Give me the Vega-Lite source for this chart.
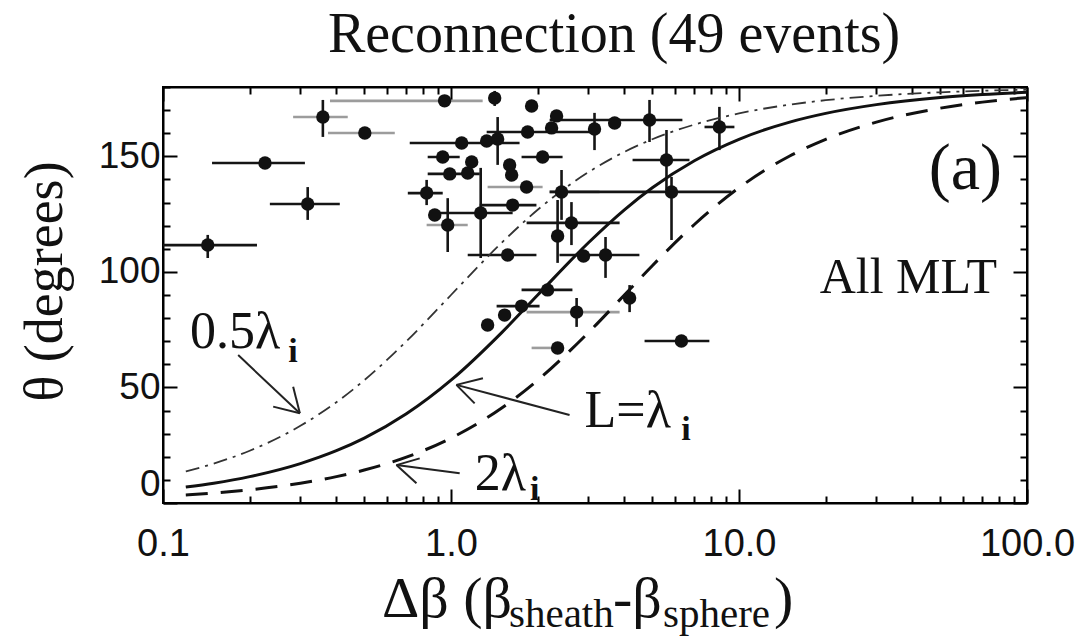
{
  "$schema": "https://vega.github.io/schema/vega-lite/v6.json",
  "width": 864,
  "height": 416,
  "autosize": {"type": "none"},
  "padding": {"left": 163, "top": 87, "right": 56, "bottom": 133},
  "background": "white",
  "config": {"view": {"stroke": "black", "strokeWidth": 2}, "axis": {"titleFont": "Liberation Serif", "titleFontWeight": "normal"}},
  "title": {"text": "Reconnection (49 events)", "font": "Liberation Serif", "fontSize": 56, "fontWeight": "normal", "color": "#111111", "anchor": "middle", "frame": "group", "dx": 19, "dy": 52, "offset": 30, "baseline": "alphabetic"},
  "datasets": {
    "events": [
      {"db": 0.143, "theta": 111.6, "db_lo": 0.100, "db_hi": 0.212, "th_lo": 106.0, "th_hi": 116.0, "shade": "dark"},
      {"db": 0.226, "theta": 147.1, "db_lo": 0.148, "db_hi": 0.311, "th_lo": null, "th_hi": null, "shade": "dark"},
      {"db": 0.318, "theta": 129.4, "db_lo": 0.235, "db_hi": 0.411, "th_lo": 122.5, "th_hi": 136.7, "shade": "dark"},
      {"db": 0.359, "theta": 167.0, "db_lo": 0.283, "db_hi": 0.438, "th_lo": 158.4, "th_hi": 174.4, "shade": "light"},
      {"db": 0.502, "theta": 160.1, "db_lo": 0.374, "db_hi": 0.638, "th_lo": null, "th_hi": null, "shade": "light"},
      {"db": 0.950, "theta": 174.0, "db_lo": 0.380, "db_hi": 1.288, "th_lo": null, "th_hi": null, "shade": "light"},
      {"db": 1.418, "theta": 175.2, "db_lo": null, "db_hi": null, "th_lo": 171.8, "th_hi": 178.3, "shade": "dark"},
      {"db": 1.905, "theta": 171.8, "db_lo": null, "db_hi": null, "th_lo": null, "th_hi": null, "shade": "dark"},
      {"db": 2.326, "theta": 167.5, "db_lo": null, "db_hi": null, "th_lo": null, "th_hi": null, "shade": "dark"},
      {"db": 2.235, "theta": 162.3, "db_lo": null, "db_hi": null, "th_lo": null, "th_hi": null, "shade": "dark"},
      {"db": 1.845, "theta": 160.5, "db_lo": 1.33, "db_hi": 3.28, "th_lo": null, "th_hi": null, "shade": "dark"},
      {"db": 3.15, "theta": 161.8, "db_lo": null, "db_hi": null, "th_lo": 152.7, "th_hi": 168.8, "shade": "dark"},
      {"db": 3.70, "theta": 164.4, "db_lo": null, "db_hi": null, "th_lo": null, "th_hi": null, "shade": "dark"},
      {"db": 4.89, "theta": 165.7, "db_lo": 2.20, "db_hi": 6.36, "th_lo": 156.2, "th_hi": 174.4, "shade": "dark"},
      {"db": 8.55, "theta": 162.7, "db_lo": 7.59, "db_hi": 9.64, "th_lo": 152.7, "th_hi": 171.4, "shade": "dark"},
      {"db": 1.089, "theta": 155.8, "db_lo": 0.719, "db_hi": 1.73, "th_lo": null, "th_hi": null, "shade": "dark"},
      {"db": 1.33, "theta": 156.6, "db_lo": null, "db_hi": null, "th_lo": null, "th_hi": null, "shade": "dark"},
      {"db": 1.452, "theta": 157.5, "db_lo": null, "db_hi": null, "th_lo": 146.3, "th_hi": 167.0, "shade": "dark"},
      {"db": 0.936, "theta": 149.7, "db_lo": 0.830, "db_hi": 1.072, "th_lo": null, "th_hi": null, "shade": "dark"},
      {"db": 2.08, "theta": 149.7, "db_lo": 1.758, "db_hi": 2.44, "th_lo": null, "th_hi": null, "shade": "dark"},
      {"db": 0.990, "theta": 142.4, "db_lo": 0.830, "db_hi": 1.258, "th_lo": null, "th_hi": null, "shade": "dark"},
      {"db": 1.143, "theta": 142.8, "db_lo": null, "db_hi": null, "th_lo": null, "th_hi": null, "shade": "dark"},
      {"db": 1.18, "theta": 147.6, "db_lo": null, "db_hi": null, "th_lo": null, "th_hi": null, "shade": "dark"},
      {"db": 1.598, "theta": 146.3, "db_lo": null, "db_hi": null, "th_lo": null, "th_hi": null, "shade": "dark"},
      {"db": 1.624, "theta": 141.9, "db_lo": null, "db_hi": null, "th_lo": null, "th_hi": null, "shade": "dark"},
      {"db": 1.268, "theta": 125.5, "db_lo": 0.843, "db_hi": 1.637, "th_lo": 106.0, "th_hi": 145.0, "shade": "dark"},
      {"db": 1.83, "theta": 136.7, "db_lo": 1.34, "db_hi": 2.08, "th_lo": null, "th_hi": null, "shade": "light"},
      {"db": 2.42, "theta": 134.6, "db_lo": 2.20, "db_hi": 3.28, "th_lo": 122.5, "th_hi": 144.1, "shade": "light"},
      {"db": 0.823, "theta": 134.1, "db_lo": 0.708, "db_hi": 0.936, "th_lo": 128.9, "th_hi": 139.8, "shade": "dark"},
      {"db": 1.637, "theta": 128.9, "db_lo": 1.258, "db_hi": 1.98, "th_lo": null, "th_hi": null, "shade": "dark"},
      {"db": 0.878, "theta": 124.6, "db_lo": null, "db_hi": null, "th_lo": null, "th_hi": null, "shade": "dark"},
      {"db": 0.974, "theta": 120.3, "db_lo": 0.823, "db_hi": 1.143, "th_lo": 108.6, "th_hi": 131.9, "shade": "light"},
      {"db": 2.62, "theta": 121.2, "db_lo": 1.83, "db_hi": 3.85, "th_lo": 111.6, "th_hi": 130.2, "shade": "dark"},
      {"db": 2.345, "theta": 115.5, "db_lo": null, "db_hi": null, "th_lo": 103.9, "th_hi": 131.1, "shade": "dark"},
      {"db": 1.573, "theta": 107.3, "db_lo": 1.143, "db_hi": 1.98, "th_lo": null, "th_hi": null, "shade": "dark"},
      {"db": 2.885, "theta": 106.9, "db_lo": null, "db_hi": null, "th_lo": null, "th_hi": null, "shade": "dark"},
      {"db": 3.44, "theta": 107.3, "db_lo": 2.38, "db_hi": 4.51, "th_lo": 97.4, "th_hi": 115.1, "shade": "dark"},
      {"db": 5.60, "theta": 148.4, "db_lo": 4.27, "db_hi": 6.73, "th_lo": 135.4, "th_hi": 161.4, "shade": "dark"},
      {"db": 5.83, "theta": 134.6, "db_lo": 2.20, "db_hi": 9.41, "th_lo": 113.8, "th_hi": 141.1, "shade": "dark"},
      {"db": 2.164, "theta": 92.2, "db_lo": 1.758, "db_hi": 2.64, "th_lo": null, "th_hi": null, "shade": "dark"},
      {"db": 1.758, "theta": 85.2, "db_lo": 1.44, "db_hi": 2.03, "th_lo": null, "th_hi": null, "shade": "dark"},
      {"db": 1.535, "theta": 81.3, "db_lo": null, "db_hi": null, "th_lo": null, "th_hi": null, "shade": "dark"},
      {"db": 1.34, "theta": 77.0, "db_lo": null, "db_hi": null, "th_lo": null, "th_hi": null, "shade": "dark"},
      {"db": 2.73, "theta": 82.6, "db_lo": 1.83, "db_hi": 3.85, "th_lo": 76.2, "th_hi": 88.7, "shade": "light"},
      {"db": 4.17, "theta": 88.7, "db_lo": null, "db_hi": null, "th_lo": 82.6, "th_hi": 94.3, "shade": "dark"},
      {"db": 2.345, "theta": 67.1, "db_lo": 1.905, "db_hi": 2.38, "th_lo": null, "th_hi": null, "shade": "light"},
      {"db": 6.31, "theta": 70.1, "db_lo": 4.70, "db_hi": 7.89, "th_lo": null, "th_hi": null, "shade": "dark"}
    ],
    "curves": [
      {"curve": "half", "db": 0.12, "theta": 13.69}, {"curve": "half", "db": 0.15, "theta": 17.06}, {"curve": "half", "db": 0.2, "theta": 22.62}, {"curve": "half", "db": 0.3, "theta": 33.40}, {"curve": "half", "db": 0.4, "theta": 43.60}, {"curve": "half", "db": 0.5, "theta": 53.13}, {"curve": "half", "db": 0.7, "theta": 69.98}, {"curve": "half", "db": 1, "theta": 90.0}, {"curve": "half", "db": 1.5, "theta": 112.62}, {"curve": "half", "db": 2, "theta": 126.87}, {"curve": "half", "db": 3, "theta": 143.13}, {"curve": "half", "db": 4, "theta": 151.93}, {"curve": "half", "db": 5, "theta": 157.38}, {"curve": "half", "db": 7, "theta": 163.74}, {"curve": "half", "db": 10, "theta": 168.58}, {"curve": "half", "db": 15, "theta": 172.37}, {"curve": "half", "db": 20, "theta": 174.28}, {"curve": "half", "db": 30, "theta": 176.18}, {"curve": "half", "db": 50, "theta": 177.71}, {"curve": "half", "db": 70, "theta": 178.36}, {"curve": "half", "db": 100, "theta": 178.85},
      {"curve": "one", "db": 0.12, "theta": 6.87}, {"curve": "one", "db": 0.15, "theta": 8.58}, {"curve": "one", "db": 0.2, "theta": 11.42}, {"curve": "one", "db": 0.3, "theta": 17.06}, {"curve": "one", "db": 0.4, "theta": 22.62}, {"curve": "one", "db": 0.5, "theta": 28.07}, {"curve": "one", "db": 0.7, "theta": 38.58}, {"curve": "one", "db": 1, "theta": 53.13}, {"curve": "one", "db": 1.5, "theta": 73.74}, {"curve": "one", "db": 2, "theta": 90.0}, {"curve": "one", "db": 3, "theta": 112.62}, {"curve": "one", "db": 4, "theta": 126.87}, {"curve": "one", "db": 5, "theta": 136.40}, {"curve": "one", "db": 7, "theta": 148.11}, {"curve": "one", "db": 10, "theta": 157.38}, {"curve": "one", "db": 15, "theta": 164.81}, {"curve": "one", "db": 20, "theta": 168.58}, {"curve": "one", "db": 30, "theta": 172.37}, {"curve": "one", "db": 50, "theta": 175.42}, {"curve": "one", "db": 70, "theta": 176.73}, {"curve": "one", "db": 100, "theta": 177.71},
      {"curve": "two", "db": 0.12, "theta": 3.44}, {"curve": "two", "db": 0.15, "theta": 4.30}, {"curve": "two", "db": 0.2, "theta": 5.72}, {"curve": "two", "db": 0.3, "theta": 8.58}, {"curve": "two", "db": 0.4, "theta": 11.42}, {"curve": "two", "db": 0.5, "theta": 14.25}, {"curve": "two", "db": 0.7, "theta": 19.85}, {"curve": "two", "db": 1, "theta": 28.07}, {"curve": "two", "db": 1.5, "theta": 41.11}, {"curve": "two", "db": 2, "theta": 53.13}, {"curve": "two", "db": 3, "theta": 73.74}, {"curve": "two", "db": 4, "theta": 90.0}, {"curve": "two", "db": 5, "theta": 102.68}, {"curve": "two", "db": 7, "theta": 120.51}, {"curve": "two", "db": 10, "theta": 136.40}, {"curve": "two", "db": 15, "theta": 150.14}, {"curve": "two", "db": 20, "theta": 157.38}, {"curve": "two", "db": 30, "theta": 164.81}, {"curve": "two", "db": 50, "theta": 170.85}, {"curve": "two", "db": 70, "theta": 173.46}, {"curve": "two", "db": 100, "theta": 175.42}
    ],
    "arrows": [
      {"db": 0.1824, "theta": 64.0, "db2": 0.2987, "theta2": 38.8},
      {"db": 0.2413, "theta": 41.7, "db2": 0.2987, "theta2": 38.8},
      {"db": 0.2831, "theta": 50.3, "db2": 0.2987, "theta2": 38.8},
      {"db": 2.58, "theta": 38.1, "db2": 1.044, "theta2": 51.1},
      {"db": 1.291, "theta": 54.0, "db2": 1.044, "theta2": 51.1},
      {"db": 1.208, "theta": 43.1, "db2": 1.044, "theta2": 51.1},
      {"db": 1.072, "theta": 12.9, "db2": 0.6465, "theta2": 16.4},
      {"db": 0.7787, "theta": 19.3, "db2": 0.6465, "theta2": 16.4},
      {"db": 0.7586, "theta": 8.5, "db2": 0.6465, "theta2": 16.4}
    ],
    "notes": [
      {"kind": "panel", "db": 81.9, "theta": 135.9, "txt": "(a)"},
      {"kind": "mlt", "db": 78.7, "theta": 90.9, "txt": "All MLT"},
      {"kind": "main", "db": 0.124, "theta": 67.1, "txt": "0.5λ"},
      {"kind": "sub", "db": 0.272, "theta": 61.0, "txt": "i"},
      {"kind": "main", "db": 2.909, "theta": 32.9, "txt": "L=λ"},
      {"kind": "sub", "db": 6.3, "theta": 27.3, "txt": "i"},
      {"kind": "main", "db": 1.208, "theta": 5.6, "txt": "2λ"},
      {"kind": "sub", "db": 1.88, "theta": 1.3, "txt": "i"}
    ],
    "xtitle": [
      {"kind": "main", "db": 0.576, "theta": -49.3, "txt": "Δβ (β"},
      {"kind": "sub", "db": 1.59, "theta": -53.5, "txt": "sheath"},
      {"kind": "main", "db": 3.652, "theta": -49.3, "txt": "-β"},
      {"kind": "sub", "db": 5.447, "theta": -53.5, "txt": "sphere"},
      {"kind": "main", "db": 13.23, "theta": -49.3, "txt": ")"}
    ]
  },
  "resolve": {"axis": {"x": "independent", "y": "independent"}},
  "layer": [
    {
      "data": {"name": "events"},
      "transform": [{"filter": "datum.db_lo != null"}],
      "mark": {"type": "rule", "strokeWidth": 2.6},
      "encoding": {
        "x": {"field": "db_lo", "type": "quantitative", "scale": {"type": "log", "domain": [0.1, 100], "nice": false},
          "axis": {"orient": "bottom", "title": null, "grid": false,
            "values": [0.1, 0.2, 0.3, 0.4, 0.5, 0.6, 0.7, 0.8, 0.9, 1, 2, 3, 4, 5, 6, 7, 8, 9, 10, 20, 30, 40, 50, 60, 70, 80, 90, 100],
            "labelExpr": "(datum.value == 0.1 || datum.value == 1 || datum.value == 10 || datum.value == 100) ? format(datum.value, '.1f') : ''",
            "tickSize": {"condition": {"test": "datum.value == 0.1 || datum.value == 1 || datum.value == 10 || datum.value == 100", "value": -14}, "value": -7},
            "tickColor": "black", "tickWidth": 2, "domainColor": "black", "domainWidth": 2,
            "labelFont": "Liberation Sans", "labelFontSize": 38, "labelColor": "#111111", "labelPadding": 36, "labelOverlap": false, "labelFlush": false}},
        "x2": {"field": "db_hi"},
        "y": {"field": "theta", "type": "quantitative", "scale": {"domain": [0, 180], "nice": false, "zero": false},
          "axis": {"orient": "left", "grid": false,
            "values": [0, 10, 20, 30, 40, 50, 60, 70, 80, 90, 100, 110, 120, 130, 140, 150, 160, 170, 180],
            "labelExpr": "datum.value % 50 == 0 && datum.value < 180 ? datum.label : ''",
            "tickSize": {"condition": {"test": "datum.value % 50 == 0", "value": -14}, "value": -7},
            "tickColor": "black", "tickWidth": 2, "domainColor": "black", "domainWidth": 2,
            "labelFont": "Liberation Sans", "labelFontSize": 37, "labelColor": "#111111", "labelPadding": 17, "labelFlush": true, "labelOverlap": false,
            "title": "θ (degrees)", "titleFont": "Liberation Serif", "titleFontSize": 54, "titleFontWeight": "normal", "titleColor": "#111111",
            "titleAngle": -90, "titleX": -118, "titleY": 194, "titleBaseline": "middle", "titleAlign": "center"}},
        "color": {"field": "shade", "type": "nominal", "scale": {"domain": ["dark", "light"], "range": ["#151515", "#9c9c9c"]}, "legend": null}
      }
    },
    {
      "data": {"name": "events"},
      "transform": [{"filter": "datum.th_lo != null"}],
      "mark": {"type": "rule", "strokeWidth": 2.6, "color": "#151515"},
      "encoding": {
        "x": {"field": "db", "type": "quantitative", "scale": {"type": "log", "domain": [0.1, 100], "nice": false},
          "axis": {"orient": "top", "title": null, "grid": false, "labels": false,
            "values": [0.1, 0.2, 0.3, 0.4, 0.5, 0.6, 0.7, 0.8, 0.9, 1, 2, 3, 4, 5, 6, 7, 8, 9, 10, 20, 30, 40, 50, 60, 70, 80, 90, 100],
            "tickSize": {"condition": {"test": "datum.value == 0.1 || datum.value == 1 || datum.value == 10 || datum.value == 100", "value": -14}, "value": -7},
            "tickColor": "black", "tickWidth": 2, "domainColor": "black", "domainWidth": 2}},
        "y": {"field": "th_lo", "type": "quantitative", "scale": {"domain": [0, 180], "nice": false, "zero": false},
          "axis": {"orient": "right", "title": null, "grid": false, "labels": false,
            "values": [0, 10, 20, 30, 40, 50, 60, 70, 80, 90, 100, 110, 120, 130, 140, 150, 160, 170, 180],
            "tickSize": {"condition": {"test": "datum.value % 50 == 0", "value": -14}, "value": -7},
            "tickColor": "black", "tickWidth": 2, "domainColor": "black", "domainWidth": 2}},
        "y2": {"field": "th_hi"}
      }
    },
    {
      "data": {"name": "curves"},
      "transform": [{"filter": "datum.curve == 'half'"}],
      "mark": {"type": "line", "interpolate": "monotone", "color": "#333333", "strokeWidth": 1.8, "strokeDash": [14, 6, 3, 6]},
      "encoding": {
        "x": {"field": "db", "type": "quantitative", "scale": {"type": "log", "domain": [0.1, 100], "nice": false}, "axis": null},
        "y": {"field": "theta", "type": "quantitative", "scale": {"domain": [0, 180], "nice": false, "zero": false}, "axis": null}
      }
    },
    {
      "data": {"name": "curves"},
      "transform": [{"filter": "datum.curve == 'one'"}],
      "mark": {"type": "line", "interpolate": "monotone", "color": "#111111", "strokeWidth": 3},
      "encoding": {
        "x": {"field": "db", "type": "quantitative", "scale": {"type": "log", "domain": [0.1, 100], "nice": false}, "axis": null},
        "y": {"field": "theta", "type": "quantitative", "scale": {"domain": [0, 180], "nice": false, "zero": false}, "axis": null}
      }
    },
    {
      "data": {"name": "curves"},
      "transform": [{"filter": "datum.curve == 'two'"}],
      "mark": {"type": "line", "interpolate": "monotone", "color": "#111111", "strokeWidth": 3, "strokeDash": [22, 13]},
      "encoding": {
        "x": {"field": "db", "type": "quantitative", "scale": {"type": "log", "domain": [0.1, 100], "nice": false}, "axis": null},
        "y": {"field": "theta", "type": "quantitative", "scale": {"domain": [0, 180], "nice": false, "zero": false}, "axis": null}
      }
    },
    {
      "data": {"name": "events"},
      "mark": {"type": "circle", "size": 180, "color": "#111111", "opacity": 1},
      "encoding": {
        "x": {"field": "db", "type": "quantitative", "scale": {"type": "log", "domain": [0.1, 100], "nice": false}, "axis": null},
        "y": {"field": "theta", "type": "quantitative", "scale": {"domain": [0, 180], "nice": false, "zero": false}, "axis": null}
      }
    },
    {
      "data": {"name": "arrows"},
      "mark": {"type": "rule", "strokeWidth": 2, "color": "#222222"},
      "encoding": {
        "x": {"field": "db", "type": "quantitative", "scale": {"type": "log", "domain": [0.1, 100], "nice": false}, "axis": null},
        "y": {"field": "theta", "type": "quantitative", "scale": {"domain": [0, 180], "nice": false, "zero": false}, "axis": null},
        "x2": {"field": "db2"},
        "y2": {"field": "theta2"}
      }
    },
    {
      "data": {"name": "notes"},
      "transform": [{"filter": "datum.kind == 'panel'"}],
      "mark": {"type": "text", "font": "Liberation Serif", "fontSize": 66, "align": "right", "baseline": "alphabetic", "color": "#111111"},
      "encoding": {
        "x": {"field": "db", "type": "quantitative", "scale": {"type": "log", "domain": [0.1, 100], "nice": false}, "axis": null},
        "y": {"field": "theta", "type": "quantitative", "scale": {"domain": [0, 180], "nice": false, "zero": false}, "axis": null},
        "text": {"field": "txt"}
      }
    },
    {
      "data": {"name": "notes"},
      "transform": [{"filter": "datum.kind == 'mlt'"}],
      "mark": {"type": "text", "font": "Liberation Serif", "fontSize": 50, "align": "right", "baseline": "alphabetic", "color": "#111111"},
      "encoding": {
        "x": {"field": "db", "type": "quantitative", "scale": {"type": "log", "domain": [0.1, 100], "nice": false}, "axis": null},
        "y": {"field": "theta", "type": "quantitative", "scale": {"domain": [0, 180], "nice": false, "zero": false}, "axis": null},
        "text": {"field": "txt"}
      }
    },
    {
      "data": {"name": "notes"},
      "transform": [{"filter": "datum.kind == 'main'"}],
      "mark": {"type": "text", "font": "Liberation Serif", "fontSize": 52, "align": "left", "baseline": "alphabetic", "color": "#111111"},
      "encoding": {
        "x": {"field": "db", "type": "quantitative", "scale": {"type": "log", "domain": [0.1, 100], "nice": false}, "axis": null},
        "y": {"field": "theta", "type": "quantitative", "scale": {"domain": [0, 180], "nice": false, "zero": false}, "axis": null},
        "text": {"field": "txt"}
      }
    },
    {
      "data": {"name": "notes"},
      "transform": [{"filter": "datum.kind == 'sub'"}],
      "mark": {"type": "text", "font": "Liberation Serif", "fontSize": 34, "fontWeight": "bold", "align": "left", "baseline": "alphabetic", "color": "#111111"},
      "encoding": {
        "x": {"field": "db", "type": "quantitative", "scale": {"type": "log", "domain": [0.1, 100], "nice": false}, "axis": null},
        "y": {"field": "theta", "type": "quantitative", "scale": {"domain": [0, 180], "nice": false, "zero": false}, "axis": null},
        "text": {"field": "txt"}
      }
    },
    {
      "data": {"name": "xtitle"},
      "transform": [{"filter": "datum.kind == 'main'"}],
      "mark": {"type": "text", "font": "Liberation Serif", "fontSize": 58, "align": "left", "baseline": "alphabetic", "color": "#111111"},
      "encoding": {
        "x": {"field": "db", "type": "quantitative", "scale": {"type": "log", "domain": [0.1, 100], "nice": false}, "axis": null},
        "y": {"field": "theta", "type": "quantitative", "scale": {"domain": [0, 180], "nice": false, "zero": false}, "axis": null},
        "text": {"field": "txt"}
      }
    },
    {
      "data": {"name": "xtitle"},
      "transform": [{"filter": "datum.kind == 'sub'"}],
      "mark": {"type": "text", "font": "Liberation Serif", "fontSize": 41, "align": "left", "baseline": "alphabetic", "color": "#111111"},
      "encoding": {
        "x": {"field": "db", "type": "quantitative", "scale": {"type": "log", "domain": [0.1, 100], "nice": false}, "axis": null},
        "y": {"field": "theta", "type": "quantitative", "scale": {"domain": [0, 180], "nice": false, "zero": false}, "axis": null},
        "text": {"field": "txt"}
      }
    }
  ]
}
